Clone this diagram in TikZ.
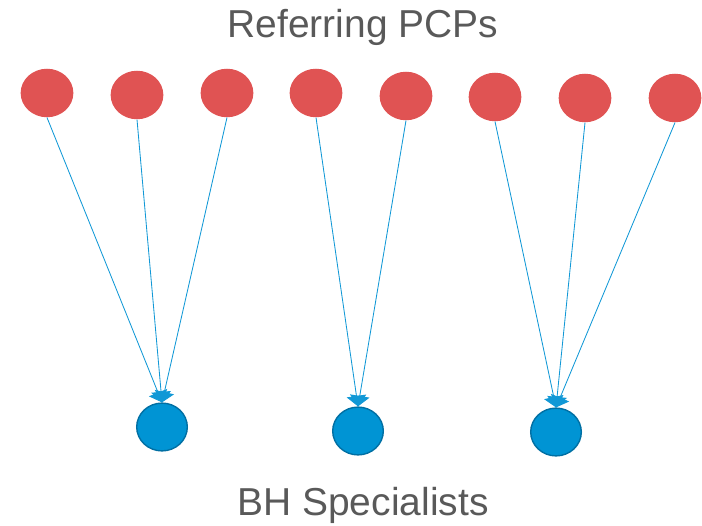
\documentclass[tikz,border=0pt]{standalone}
\usepackage{fontspec}
\setmainfont{Liberation Sans}
\usetikzlibrary{shapes.geometric,arrows.meta}
\definecolor{pcpred}{HTML}{E05353}
\definecolor{bhblue}{HTML}{0094D4}
\definecolor{bhedge}{HTML}{006FA3}
\definecolor{linkblue}{HTML}{1198D6}
\definecolor{labelgrey}{HTML}{595959}
\tikzset{
  pcp/.style={ellipse,fill=pcpred,minimum width=37.5pt,minimum height=34.5pt,inner sep=0pt},
  bh/.style={ellipse,fill=bhblue,draw=bhedge,line width=1pt,minimum width=36pt,minimum height=34pt,inner sep=0pt},
  referral/.style={draw=linkblue,line width=0.6pt,-{Triangle[width=14pt,length=7.5pt]}},
  title/.style={text=labelgrey,font=\fontsize{27.7pt}{32pt}\selectfont}
}

\begin{document}
\begin{tikzpicture}[x=0.025cm,y=-0.025cm]
\useasboundingbox (0,0) rectangle (702,525);

\node[title] (top) at (363,27) {Referring PCPs};
\node[title] (bottom) at (363,505) {BH Specialists};

\foreach \n/\x/\y in {1/47/93,2/137/95,3/227/93,4/316/93,5/406/96,6/495/97,7/585/98,8/675/98}
    \node[pcp] (r\n) at (\x,\y) {};

\node[bh] (b1) at (162,427) {};
\node[bh] (b2) at (358,431) {};
\node[bh] (b3) at (556,432) {};

\foreach \n/\b in {1/1,2/1,3/1,4/2,5/2,6/3,7/3,8/3}
    \draw[referral] (r\n.south) -- (b\b.north);

\end{tikzpicture}
\end{document}
